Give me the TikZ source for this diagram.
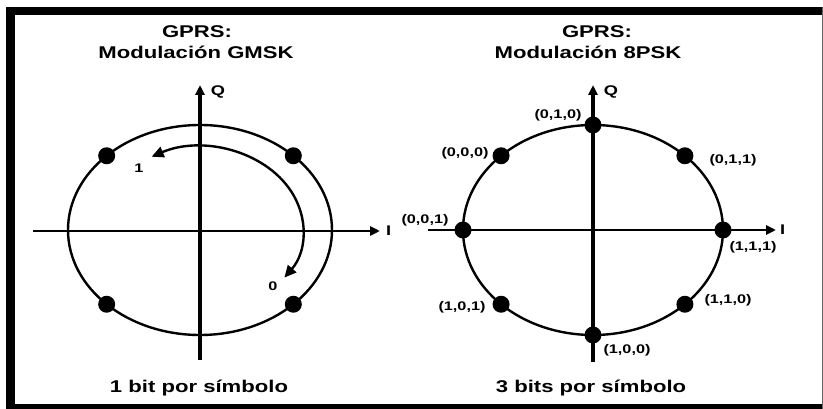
\documentclass[tikz,border=0pt]{standalone}
\usepackage{fontspec}
\setmainfont{Liberation Sans}
\usetikzlibrary{arrows.meta,calc}
\newcommand{\stretchtxt}[2][1.3]{\scalebox{#1}[1]{#2}}
\begin{document}
\begin{tikzpicture}[x=1pt,y=-1pt,
  bigtxt/.style={inner sep=0pt, font=\fontsize{17}{20}\selectfont\bfseries},
  axtxt/.style={inner sep=0pt, font=\fontsize{14}{16}\selectfont\bfseries},
  bitlbl/.style={inner sep=0pt, font=\fontsize{12.5}{14}\selectfont\bfseries},
  dotnode/.style={circle, fill=black, inner sep=0pt, minimum size=17pt},
  axisline/.style={line width=2.6pt, -{Triangle[length=10pt,width=9pt]}},
  vaxisline/.style={line width=3.2pt, -{Triangle[length=10pt,width=9pt]}},
  ring/.style={line width=2.4pt},
  turnarrow/.style={line width=2.4pt, {Triangle[length=12pt,width=11pt]}-{Triangle[length=12pt,width=11pt]}}
]
\useasboundingbox (0,0) rectangle (823,409);
% frame
\fill[black] (6,7) rectangle (15,409);
\fill[black] (6,7) rectangle (823,15);
\fill[black] (6,404) rectangle (823,409);
\draw[black!60, line width=0.8pt] (822,7) -- (822,409);

% ===== left diagram: GMSK =====
\coordinate (CL) at (200,230);
\node[bigtxt] (tl1) at (197,32) {\stretchtxt{GPRS:}};
\node[bigtxt] (tl2) at (196,52) {\stretchtxt{Modulación GMSK}};
\node[bigtxt] (bl) at (199,388) {\stretchtxt{1 bit por símbolo}};
\draw[ring] (CL) ellipse [x radius=132, y radius=105];
\coordinate (LHs) at (33,231);
\coordinate (LHe) at (380,231);
\coordinate (LVs) at (200,360);
\coordinate (LVe) at (200,85);
\draw[axisline] (LHs) -- (LHe);
\draw[vaxisline] (LVs) -- (LVe);
\node[axtxt, anchor=west] (LI) at (386,231) {\stretchtxt{I}};
\node[axtxt] (LQ) at (218,92) {\stretchtxt{Q}};
\draw[turnarrow] (CL) ++(-118:103 and 83) arc[start angle=-118, end angle=35, x radius=103, y radius=83];
\node[bitlbl] (one) at (139,168) {\stretchtxt{1}};
\node[bitlbl] (zero) at (273,286) {\stretchtxt{0}};
\node[dotnode] (g1) at ($(CL)+(-45:132 and 105)$) {};
\node[dotnode] (g2) at ($(CL)+(-135:132 and 105)$) {};
\node[dotnode] (g3) at ($(CL)+(135:132 and 105)$) {};
\node[dotnode] (g4) at ($(CL)+(45:132 and 105)$) {};

% ===== right diagram: 8PSK =====
\coordinate (CR) at (593,230);
\node[bigtxt] (tr1) at (597,32) {\stretchtxt{GPRS:}};
\node[bigtxt] (tr2) at (588,52) {\stretchtxt{Modulación 8PSK}};
\node[bigtxt] (br) at (591,388) {\stretchtxt{3 bits por símbolo}};
\draw[ring] (CR) ellipse [x radius=130, y radius=105];
\coordinate (RHs) at (428,230);
\coordinate (RHe) at (776,230);
\coordinate (RVs) at (593,362);
\coordinate (RVe) at (593,85);
\draw[axisline] (RHs) -- (RHe);
\draw[vaxisline] (RVs) -- (RVe);
\node[axtxt, anchor=west] (RI) at (780,230) {\stretchtxt{I}};
\node[axtxt] (RQ) at (611,92) {\stretchtxt{Q}};
\foreach \a/\n in {0/p0,45/p45,90/p90,135/p135,180/p180,-135/pm135,-90/pm90,-45/pm45}{
  \node[dotnode] (\n) at ($(CR)+(\a:130 and 105)$) {};
}
\node[bitlbl] (l010) at (558,115) {\stretchtxt{(0,1,0)}};
\node[bitlbl] (l000) at (465,153) {\stretchtxt{(0,0,0)}};
\node[bitlbl] (l011) at (733,160) {\stretchtxt{(0,1,1)}};
\node[bitlbl] (l001) at (425,220) {\stretchtxt{(0,0,1)}};
\node[bitlbl] (l111) at (753,247) {\stretchtxt{(1,1,1)}};
\node[bitlbl] (l101) at (462,307) {\stretchtxt{(1,0,1)}};
\node[bitlbl] (l110) at (728,300) {\stretchtxt{(1,1,0)}};
\node[bitlbl] (l100) at (627,350) {\stretchtxt{(1,0,0)}};
\end{tikzpicture}
\end{document}
